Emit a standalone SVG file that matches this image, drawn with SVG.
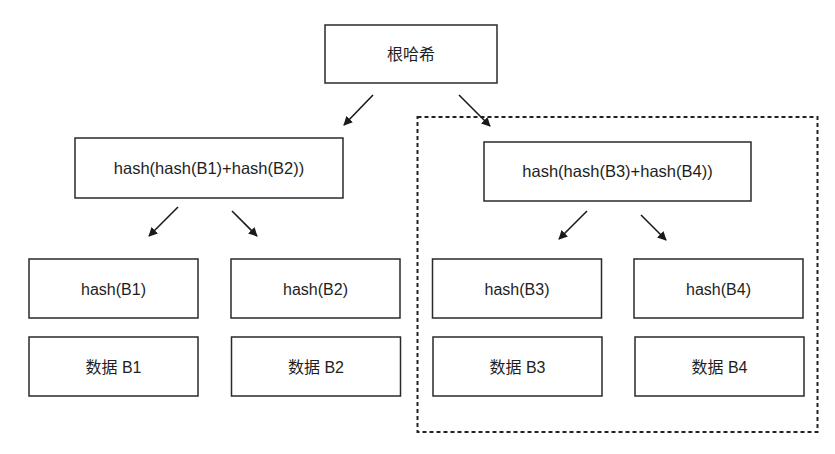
<svg xmlns="http://www.w3.org/2000/svg" width="835" height="454" viewBox="0 0 835 454">
<defs>
<style>
.box{fill:#fff;stroke:#2a2a2a;stroke-width:1.5}
.lbl{font-family:"Liberation Sans","Noto Sans CJK SC",Arial,sans-serif;font-size:16px;fill:#1e1e1e;text-anchor:middle;dominant-baseline:central}
.arr{stroke:#1a1a1a;stroke-width:1.6;fill:none;marker-end:url(#ah)}
.dash{fill:none;stroke:#222;stroke-width:2;stroke-dasharray:4 3}
</style>
<marker id="ah" viewBox="0 0 10 10" refX="9" refY="5" markerWidth="9" markerHeight="9" markerUnits="userSpaceOnUse" orient="auto">
<path d="M0,0 L10,5 L0,10 z" fill="#1a1a1a"/>
</marker>
</defs>
<rect width="835" height="454" fill="#fff"/>
<rect id="group-right" class="dash" x="417.5" y="117" width="400" height="315"/>
<g id="root"><rect class="box" x="325" y="25" width="172" height="58"/><text class="lbl" x="411" y="54">根哈希</text></g>
<g id="h12"><rect class="box" x="75" y="138" width="268" height="60"/><text class="lbl" x="209" y="168" style="font-size:16.5px">hash(hash(B1)+hash(B2))</text></g>
<g id="h34"><rect class="box" x="484" y="142" width="267" height="59"/><text class="lbl" x="617.5" y="171" style="font-size:16.5px">hash(hash(B3)+hash(B4))</text></g>
<g id="hb1"><rect class="box" x="29" y="259" width="169" height="59"/><text class="lbl" x="113.5" y="289">hash(B1)</text></g>
<g id="hb2"><rect class="box" x="231" y="259" width="169" height="59"/><text class="lbl" x="315.5" y="289">hash(B2)</text></g>
<g id="hb3"><rect class="box" x="432.5" y="259" width="169" height="59"/><text class="lbl" x="517" y="289">hash(B3)</text></g>
<g id="hb4"><rect class="box" x="634" y="259" width="169" height="59"/><text class="lbl" x="718.5" y="289">hash(B4)</text></g>
<g id="d1"><rect class="box" x="29" y="337" width="169" height="59"/><text class="lbl" x="113.5" y="367">数据 B1</text></g>
<g id="d2"><rect class="box" x="231.5" y="337" width="169" height="59"/><text class="lbl" x="316" y="367">数据 B2</text></g>
<g id="d3"><rect class="box" x="433" y="337" width="169" height="59"/><text class="lbl" x="517.5" y="367">数据 B3</text></g>
<g id="d4"><rect class="box" x="635" y="337" width="169" height="59"/><text class="lbl" x="719.5" y="367">数据 B4</text></g>
<g id="connectors">
<line class="arr" x1="373" y1="95" x2="344" y2="125"/>
<line class="arr" x1="459" y1="95" x2="490" y2="126"/>
<line class="arr" x1="178" y1="207" x2="149" y2="236"/>
<line class="arr" x1="232" y1="211" x2="257" y2="236"/>
<line class="arr" x1="587" y1="211" x2="559" y2="239"/>
<line class="arr" x1="641" y1="215" x2="666" y2="240"/>
</g>
</svg>
